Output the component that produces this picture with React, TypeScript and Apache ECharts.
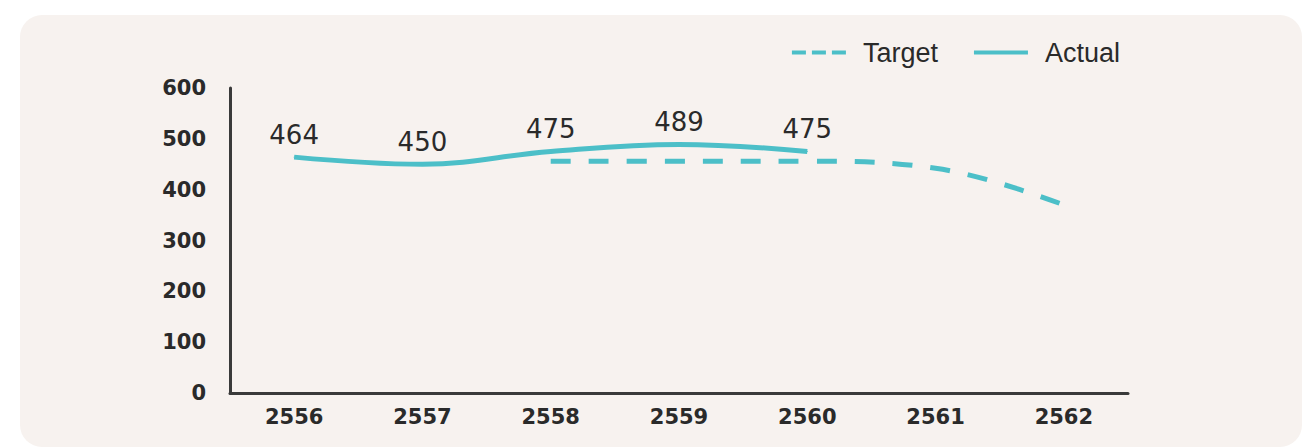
import React, { useEffect, useRef } from "react";
import * as echarts from "echarts";

// Fiscal years (Buddhist era)
const years = ["2556", "2557", "2558", "2559", "2560", "2561", "2562"];
// Actual results, years with data only
const actualValues: (number | null)[] = [464, 450, 475, 489, 475, null, null];
// Target plan from 2558 onward
const targetValues: (number | null)[] = [null, null, 456, 456, 456, 442, 370];
// Y axis range
const yMin = 0;
const yMax = 600;
const yStep = 100;

const TEAL = "#4cbfc8";
const INK = "#2a2a2a";
const HAND_FONT = "'DejaVu Sans', 'Noto Sans', sans-serif";

// legend glyphs: three dashes for the plan, one solid bar for results
const DASH_ICON = "path://M0,0h14v4h-14z M20,0h14v4h-14z M40,0h14v4h-14z";
const SOLID_ICON = "path://M0,0h54v4h-54z";

export default function App() {
  const ref = useRef<HTMLDivElement>(null);

  useEffect(() => {
    if (!ref.current) return;
    const chart = echarts.init(ref.current, null, { renderer: "svg" });
    chart.setOption({
      animation: false,
      backgroundColor: "#ffffff",
      graphic: [
        {
          type: "rect",
          z: -10,
          silent: true,
          shape: { x: 20, y: 15, width: 1282, height: 432, r: 22 },
          style: { fill: "#f7f2ef" },
        },
      ],
      legend: {
        top: 34,
        right: 181,
        itemWidth: 54,
        itemHeight: 5,
        itemGap: 36,
        textStyle: {
          fontFamily: "'Liberation Sans', Arial, sans-serif",
          fontSize: 27,
          color: INK,
          padding: [0, 0, 0, 12],
        },
        data: [
          { name: "Target", icon: DASH_ICON, itemStyle: { color: TEAL } },
          { name: "Actual", icon: SOLID_ICON, itemStyle: { color: TEAL } },
        ],
      },
      grid: { left: 230, right: 178, top: 88, bottom: 54, containLabel: false },
      xAxis: {
        type: "category",
        data: years,
        boundaryGap: true,
        axisLine: { lineStyle: { color: "#3a3a3a", width: 3 } },
        axisTick: { show: false },
        axisLabel: {
          margin: 13,
          fontFamily: HAND_FONT,
          fontWeight: "bold",
          fontSize: 21,
          color: INK,
        },
        splitLine: { show: false },
      },
      yAxis: {
        type: "value",
        min: yMin,
        max: yMax,
        interval: yStep,
        axisLine: { show: true, lineStyle: { color: "#3a3a3a", width: 3 } },
        axisTick: { show: false },
        axisLabel: {
          margin: 24,
          fontFamily: HAND_FONT,
          fontWeight: "bold",
          fontSize: 21,
          color: INK,
        },
        splitLine: { show: false },
      },
      series: [
        {
          name: "Target",
          type: "line",
          data: targetValues,
          smooth: 0.4,
          symbol: "none",
          showSymbol: false,
          z: 2,
          itemStyle: { color: TEAL },
          lineStyle: { color: TEAL, width: 5, type: [20, 18] },
        },
        {
          name: "Actual",
          type: "line",
          data: actualValues,
          smooth: 0.4,
          symbol: "circle",
          symbolSize: 1,
          showSymbol: true,
          z: 3,
          itemStyle: { color: TEAL },
          lineStyle: { color: TEAL, width: 5 },
          label: {
            show: true,
            position: "top",
            distance: 9,
            fontFamily: HAND_FONT,
            fontSize: 26,
            color: INK,
          },
        },
      ],
    });
    return () => chart.dispose();
  }, []);

  return (
    <div
      ref={ref}
      style={{ position: "fixed", left: 0, top: 0, width: 1306, height: 447 }}
    />
  );
}
